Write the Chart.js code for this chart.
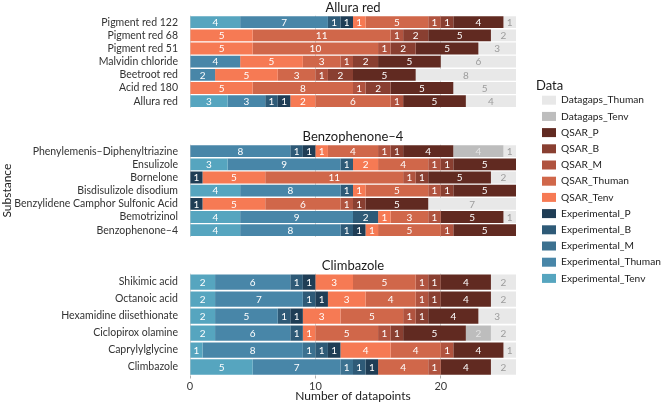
<!DOCTYPE html>
<html><head><meta charset="utf-8">
<script src="https://cdn.jsdelivr.net/npm/chart.js@4.4.1/dist/chart.umd.min.js"></script>
<style>
html,body{margin:0;padding:0;background:#fff;overflow:hidden;width:661px;height:403px;position:relative;}
canvas{position:absolute;}
</style></head><body>
<canvas id="p0" style="left:0;top:0" width="516" height="118"></canvas>
<canvas id="p1" style="left:0;top:129px" width="516" height="118"></canvas>
<canvas id="p2" style="left:0;top:258px" width="516" height="145"></canvas>
<canvas id="lg" style="left:536px;top:79px" width="320" height="260"></canvas>
<script>
const panelTitles = ['Allura red', 'Benzophenone–4', 'Climbazole'];
const substances = [
  'Pigment red 122','Pigment red 68','Pigment red 51','Malvidin chloride','Beetroot red','Acid red 180','Allura red',
  'Phenylemenis–Diphenyltriazine','Ensulizole','Bornelone','Bisdisulizole disodium','Benzylidene Camphor Sulfonic Acid','Bemotrizinol','Benzophenone–4',
  'Shikimic acid','Octanoic acid','Hexamidine diisethionate','Ciclopirox olamine','Caprylylglycine','Climbazole'
];
const panelOf = [0,0,0,0,0,0,0, 1,1,1,1,1,1,1, 2,2,2,2,2,2];

const experimentalTenv   = [4,0,0,0,0,0,3, 0,3,0,4,0,4,4, 2,2,2,2,1,5];
const experimentalThuman = [7,0,0,4,2,0,3, 8,9,0,8,0,9,8, 6,7,5,6,8,7];
const experimentalM      = [0,0,0,0,0,0,0, 0,0,0,0,0,0,0, 0,0,0,0,1,1];
const experimentalB      = [1,0,0,0,0,0,1, 1,1,0,1,0,2,1, 1,1,1,1,1,1];
const experimentalP      = [1,0,0,0,0,0,1, 1,0,1,0,1,0,1, 1,1,1,0,1,1];
const qsarTenv           = [1,5,5,5,5,5,2, 1,2,5,1,5,1,1, 3,3,3,1,4,0];
const qsarThuman         = [5,11,10,3,3,8,6, 4,4,11,5,6,3,5, 5,4,5,5,4,4];
const qsarM              = [1,1,1,1,1,1,1, 1,1,1,1,1,1,1, 1,1,1,1,1,1];
const qsarB              = [1,2,2,2,2,2,0, 1,1,1,1,1,0,0, 1,1,1,1,0,0];
const qsarP              = [4,5,5,5,5,5,5, 4,5,5,5,5,5,5, 4,4,4,5,4,4];
const datagapsTenv       = [0,0,0,0,0,0,0, 4,0,0,0,0,0,0, 0,0,0,2,0,0];
const datagapsThuman     = [1,2,3,6,8,5,4, 1,0,2,0,7,1,0, 2,2,3,2,1,2];

const xTicks = [0, 10, 20];
const xMax = 26;

const series = [
  {name:'Experimental_Tenv',   values:experimentalTenv,   color:'#56a5bf', text:'#ffffff'},
  {name:'Experimental_Thuman', values:experimentalThuman, color:'#4886a8', text:'#ffffff'},
  {name:'Experimental_M',      values:experimentalM,      color:'#3c7190', text:'#ffffff'},
  {name:'Experimental_B',      values:experimentalB,      color:'#2e5a77', text:'#ffffff'},
  {name:'Experimental_P',      values:experimentalP,      color:'#1f3d55', text:'#ffffff'},
  {name:'QSAR_Tenv',           values:qsarTenv,           color:'#f67a54', text:'#ffffff'},
  {name:'QSAR_Thuman',         values:qsarThuman,         color:'#d0674a', text:'#ffffff'},
  {name:'QSAR_M',              values:qsarM,              color:'#b0533f', text:'#ffffff'},
  {name:'QSAR_B',              values:qsarB,              color:'#893f31', text:'#ffffff'},
  {name:'QSAR_P',              values:qsarP,              color:'#612a21', text:'#ffffff'},
  {name:'Datagaps_Tenv',       values:datagapsTenv,       color:'#bdbdbd', text:'#e4e4e4'},
  {name:'Datagaps_Thuman',     values:datagapsThuman,     color:'#e8e8e8', text:'#9c9c9c'}
];

Chart.defaults.font.family = 'Lato';
Chart.defaults.color = '#3a3a3a';

const segLabels = {
  id: 'segLabels',
  afterDatasetsDraw(chart) {
    const ctx = chart.ctx;
    ctx.save();
    ctx.font = '10px Lato';
    ctx.textAlign = 'center';
    ctx.textBaseline = 'middle';
    chart.data.datasets.forEach((ds, i) => {
      const meta = chart.getDatasetMeta(i);
      meta.data.forEach((el, j) => {
        const v = ds.data[j];
        if (!v) return;
        const p = el.getProps(['x', 'base', 'y'], true);
        ctx.fillStyle = ds.textColor;
        ctx.fillText(String(v), (p.x + p.base) / 2, p.y + 0.5);
      });
    });
    ctx.restore();
  }
};

function makePanel(k) {
  const idx = substances.map((s, i) => i).filter(i => panelOf[i] === k);
  const isBottom = k === 2;
  const isMiddle = k === 1;
  new Chart(document.getElementById('p' + k), {
    type: 'bar',
    data: {
      labels: idx.map(i => substances[i]),
      datasets: series.map(s => ({
        label: s.name,
        data: idx.map(i => s.values[i]),
        backgroundColor: s.color,
        textColor: s.text,
        borderWidth: 0,
        barPercentage: 0.9,
        categoryPercentage: 1
      }))
    },
    options: {
      indexAxis: 'y',
      responsive: false,
      animation: false,
      layout: {padding: 0},
      plugins: {
        legend: {display: false},
        tooltip: {enabled: false},
        title: {display: true, text: panelTitles[k], fullSize: false, color: '#1a1a1a',
                font: {size: 13, weight: 'normal'}, padding: {top: 0, bottom: 0}}
      },
      scales: {
        x: {
          stacked: true, min: 0, max: xMax,
          afterBuildTicks: s => { s.ticks = xTicks.map(v => ({value: v})); },
          grid: {color: '#c9c9c9', lineWidth: 0.8, drawTicks: isBottom, tickLength: 3, tickColor: '#9a9a9a'},
          border: {display: false},
          ticks: {display: isBottom, padding: 1, color: '#3a3a3a', font: {size: 11}},
          title: {display: isBottom, text: 'Number of datapoints', color: '#1a1a1a', font: {size: 12}, padding: {top: 0, bottom: 0}},
          afterFit: s => { s.height = isBottom ? 27.5 : 0; }
        },
        y: {
          stacked: true,
          grid: {display: false},
          border: {display: false},
          ticks: {padding: 4, color: '#333333', font: {size: 10.5}, autoSkip: false},
          title: {display: isMiddle, text: 'Substance', color: '#1a1a1a', font: {size: 12}, padding: {top: 0, bottom: 0}},
          afterFit: s => { s.width = 190; }
        }
      }
    },
    plugins: [segLabels]
  });
}
[0, 1, 2].forEach(makePanel);

new Chart(document.getElementById('lg'), {
  type: 'bar',
  data: {
    labels: [],
    datasets: series.slice().reverse().map(s => ({label: s.name, data: [], backgroundColor: s.color, borderWidth: 0}))
  },
  options: {
    responsive: false,
    animation: false,
    layout: {padding: 0},
    scales: {x: {display: false}, y: {display: false}},
    plugins: {
      tooltip: {enabled: false},
      legend: {
        display: true, position: 'left', align: 'start',
        title: {display: true, text: 'Data', position: 'start', color: '#1a1a1a', font: {size: 13}, padding: {top: 0, bottom: -5.5}},
        labels: {boxWidth: 14, boxHeight: 9, padding: 6, color: '#222222', font: {size: 10.2}}
      }
    }
  }
});
</script>
</body></html>
